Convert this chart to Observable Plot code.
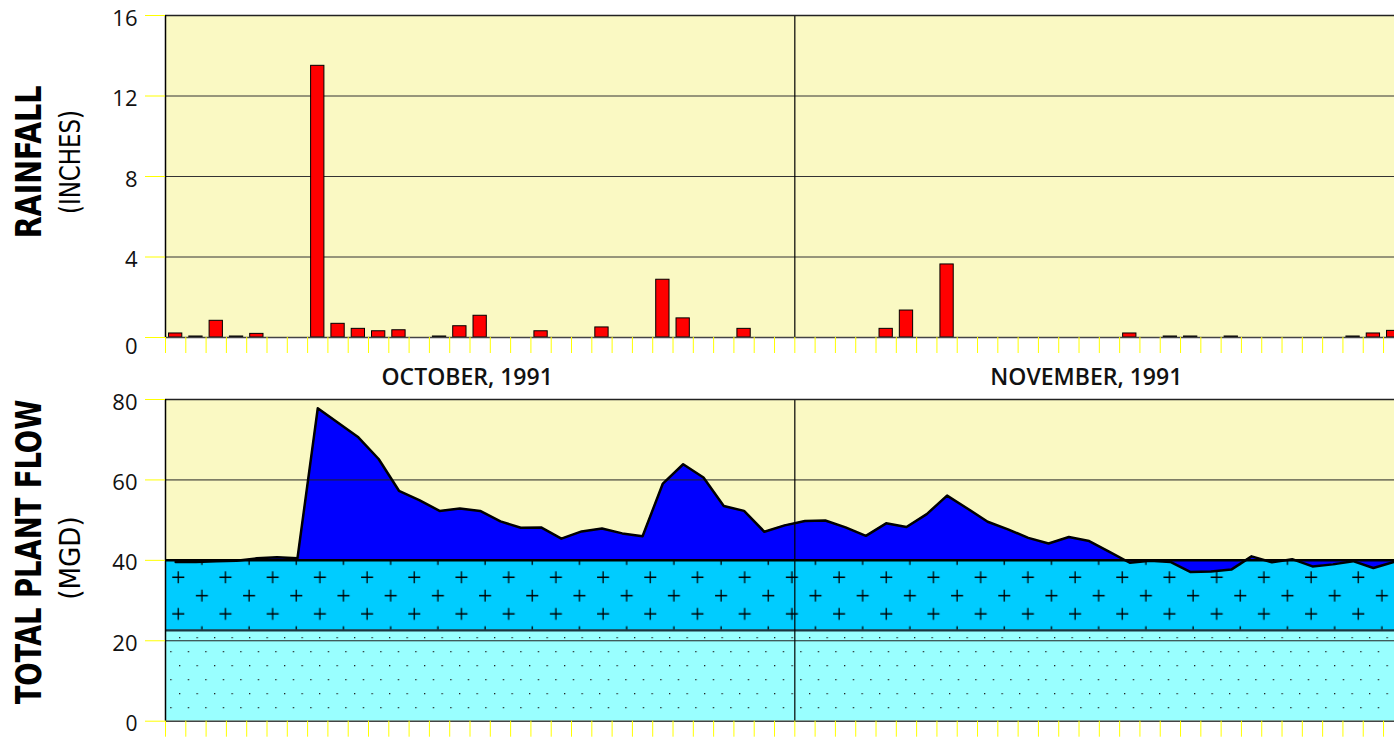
<!DOCTYPE html>
<html>
<head>
<meta charset="utf-8">
<script src="https://cdn.jsdelivr.net/npm/d3@7"></script>
<script src="https://cdn.jsdelivr.net/npm/@observablehq/plot@0.6"></script>
<style>
  html, body { margin: 0; padding: 0; background: #fff; overflow: hidden; }
  #wrap { position: relative; width: 1394px; height: 737px; overflow: hidden; }
  #top, #bot { position: absolute; left: 0; }
  #top { top: 0; }
  #bot { top: 380px; }
  .ttl { position: absolute; white-space: nowrap; color: #000; line-height: 1; }
  .big { font-family: "Liberation Sans Narrow", "Arial Narrow", "DejaVu Sans Condensed", sans-serif; font-weight: bold; font-size: 36px; }
  .small { font-family: "Liberation Sans Narrow", "Arial Narrow", "DejaVu Sans Condensed", sans-serif; font-weight: normal; font-size: 28px; }
</style>
</head>
<body>
<svg width="0" height="0" style="position:absolute">
  <defs>
    <pattern id="dots" patternUnits="userSpaceOnUse" width="17.5" height="28" x="4" y="5">
      <rect x="0" y="0" width="1.3" height="1.3" fill="#222"/>
      <rect x="8.75" y="14" width="1.3" height="1.3" fill="#222"/>
    </pattern>
    <pattern id="plus" patternUnits="userSpaceOnUse" width="47.2" height="36.6" x="166.3" y="188.15">
      <path d="M6 9.15H18M12 3.15V15.15M29.6 27.45H41.6M35.6 21.45V33.45" stroke="#000" stroke-width="1.3" fill="none"/>
    </pattern>
  </defs>
</svg>
<div id="wrap">
  <div id="top"></div>
  <div id="bot"></div>
  <div class="ttl big" style="left:29px;top:162px;transform: translate(-50%, -50%) rotate(-90deg) scale(0.88, 1);">RAINFALL</div>
  <div class="ttl small" style="left:71px;top:162px;transform: translate(-50%, -50%) rotate(-90deg) scale(0.91, 1);">(INCHES)</div>
  <div class="ttl big" style="left:29px;top:552px;transform: translate(-50%, -50%) rotate(-90deg) scale(0.845, 1);">TOTAL PLANT FLOW</div>
  <div class="ttl small" style="left:71px;top:558px;transform: translate(-50%, -50%) rotate(-90deg) scale(1.04, 1);">(MGD)</div>
</div>
<script>
// Day of period: 1..31 = Oct 1..31, 32..61 = Nov 1..30 (1991)
const dayIndex = [1,2,3,4,5,6,7,8,9,10,11,12,13,14,15,16,17,18,19,20,21,22,23,24,25,26,27,28,29,30,31,
                  32,33,34,35,36,37,38,39,40,41,42,43,44,45,46,47,48,49,50,51,52,53,54,55,56,57,58,59,60,61];

// Daily rainfall (inches)
const rainfall = [0.2,0.05,0.83,0.05,0.18,0,0,13.5,0.68,0.43,0.31,0.36,0,0.05,0.56,1.08,0,0,0.31,0,0,0.5,0,0,2.87,0.95,0,0,0.43,0,0,
                  0,0,0,0,0.43,1.34,0,3.63,0,0,0,0,0,0,0,0,0.2,0,0.05,0.05,0,0.05,0,0,0,0,0,0.05,0.2,0.33];

// Total plant flow (MGD)
const flow = [39.6,39.6,39.8,39.9,40.5,40.8,40.5,77.8,74.2,70.6,65.2,57.3,55.0,52.3,52.9,52.3,49.7,48.1,48.2,45.4,47.2,47.9,46.7,46.0,59.1,63.9,60.6,53.5,52.3,47.1,48.7,
              49.8,49.9,48.2,46.1,49.2,48.3,51.5,56.1,52.9,49.6,47.7,45.6,44.2,45.8,44.8,42.1,39.4,39.9,39.6,37.1,37.2,37.7,41.0,39.5,40.3,38.5,39.0,39.8,38.1,39.6];

// Flow components (MGD): base sanitary flow and infiltration
const bandLow  = [0, 22.6];
const bandHigh = [22.6, 40];
const bandFill = ["#99ffff", "#00ccff"];
const bandPattern = ["url(#dots)", "url(#plus)"];

// Months
const monthNames = ["OCTOBER, 1991", "NOVEMBER, 1991"];
const monthStart = [0, 31];
const monthEnd = [31, 61];

// Ticks
const rainTicks = [0, 4, 8, 12, 16];
const rainGrid = [4, 8, 12];
const flowTicks = [0, 20, 40, 60, 80];
const flowGrid = [20, 60];
const dayTicks = d3.range(0, 61);
const xDomain = [0, 60.54];

const rainData = dayIndex.map((d, i) => ({day: d, rain: rainfall[i]}));
const flowData = dayIndex.map((d, i) => ({day: d, flow: flow[i]}));
const bands = bandLow.map((lo, i) => ({lo, hi: bandHigh[i], fill: bandFill[i], pat: bandPattern[i]}));
const months = monthNames.map((m, i) => ({name: m, mid: (monthStart[i] + monthEnd[i]) / 2}));

const BG = "#faf9c3";
const numFont = "Open Sans, Noto Sans, sans-serif";

const topPlot = Plot.plot({
  width: 1394,
  height: 392,
  marginLeft: 165,
  marginRight: 0,
  marginTop: 15,
  marginBottom: 55,
  style: {background: "transparent", overflow: "visible"},
  x: {type: "linear", domain: xDomain, label: null},
  y: {domain: [0, 16], label: null},
  marks: [
    Plot.frame({fill: BG, stroke: "none"}),
    Plot.ruleY(rainGrid, {stroke: "#333", strokeWidth: 1}),
    Plot.rect(rainData.filter(d => d.rain > 0), {x1: d => d.day - 1, x2: d => d.day, y1: 0, y2: "rain",
      insetLeft: 3.5, insetRight: 3.5, fill: "#ff0000", stroke: "#000", strokeWidth: 1}),
    Plot.ruleX([monthStart[1]], {stroke: "#000", strokeWidth: 1.2}),
    Plot.ruleY([16], {stroke: "#222", strokeWidth: 1.5}),
    Plot.ruleY([0], {stroke: "#444", strokeWidth: 1.5}),
    Plot.ruleX([0], {stroke: "#000", strokeWidth: 1.5}),
    Plot.axisY({ticks: rainTicks, tickSize: 20, stroke: "#ffff00", fill: "none", label: null}),
    Plot.text(rainTicks.filter(d => d > 0), {y: d => d, text: d => String(d), frameAnchor: "left", textAnchor: "end",
      dx: -28, dy: 3, fontSize: 22, fontFamily: numFont, fill: "#111"}),
    Plot.text(rainTicks.filter(d => d === 0), {y: d => d, text: d => String(d), frameAnchor: "left", textAnchor: "end",
      dx: -28, dy: 9, fontSize: 22, fontFamily: numFont, fill: "#111"}),
    Plot.axisX({ticks: dayTicks, tickSize: 16, stroke: "#ffff00", fill: "none", label: null}),
    Plot.text(months, {x: "mid", text: "name", frameAnchor: "bottom", dy: 47, dx: -13, fontSize: 23,
      fontWeight: 600, fontFamily: numFont, fill: "#111"})
  ]
});
document.getElementById("top").appendChild(topPlot);

const botPlot = Plot.plot({
  width: 1394,
  height: 357,
  marginLeft: 165,
  marginRight: 0,
  marginTop: 19,
  marginBottom: 16.3,
  style: {background: "transparent", overflow: "visible"},
  x: {type: "linear", domain: xDomain, label: null},
  y: {domain: [0, 80], label: null},
  marks: [
    Plot.frame({fill: BG, stroke: "none"}),
    Plot.rect(bands, {y1: "lo", y2: "hi", fill: "fill"}),
    Plot.rect(bands, {y1: "lo", y2: "hi", fill: "pat"}),
    Plot.areaY(flowData, {x: d => d.day - 0.5, y1: bandHigh[1], y2: "flow", fill: "#0000ff"}),
    Plot.ruleY(flowGrid, {stroke: "#222", strokeWidth: 1}),
    Plot.ruleY([bandHigh[0]], {stroke: "#1b3540", strokeWidth: 2.2}),
    Plot.line(flowData, {x: d => d.day - 0.5, y: "flow", stroke: "#000", strokeWidth: 2.5}),
    Plot.ruleY([bandHigh[1]], {stroke: "#000", strokeWidth: 2.5}),
    Plot.ruleX([monthStart[1]], {stroke: "#000", strokeWidth: 1.2}),
    Plot.ruleY([80], {stroke: "#222", strokeWidth: 1.5}),
    Plot.ruleY([0], {stroke: "#444", strokeWidth: 1.5}),
    Plot.ruleX([0], {stroke: "#000", strokeWidth: 1.5}),
    Plot.axisY({ticks: flowTicks, tickSize: 20, stroke: "#ffff00", fill: "none", label: null}),
    Plot.text(flowTicks.filter(d => d > 0), {y: d => d, text: d => String(d), frameAnchor: "left", textAnchor: "end",
      dx: -28, dy: 3, fontSize: 22, fontFamily: numFont, fill: "#111"}),
    Plot.text(flowTicks.filter(d => d === 0), {y: d => d, text: d => String(d), frameAnchor: "left", textAnchor: "end",
      dx: -28, dy: 3, fontSize: 21, fontFamily: numFont, fill: "#111"}),
    Plot.axisX({ticks: dayTicks, tickSize: 16, stroke: "#ffff00", fill: "none", label: null})
  ]
});
document.getElementById("bot").appendChild(botPlot);
</script>
</body>
</html>
